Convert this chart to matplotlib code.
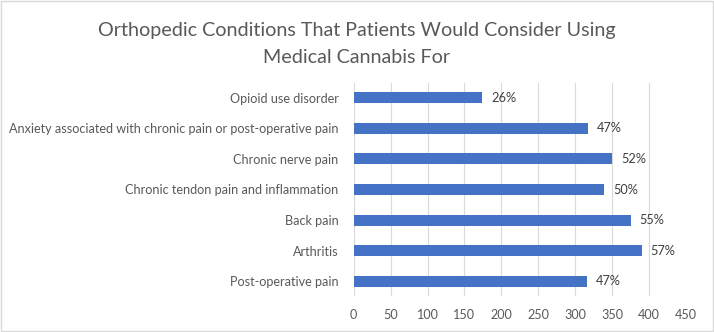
import matplotlib
matplotlib.use("Agg")
import matplotlib.pyplot as plt
from matplotlib.patches import Rectangle

# data (bottom to top as drawn)
conditions = [
    "Post-operative pain",
    "Arthritis",
    "Back pain",
    "Chronic tendon pain and inflammation",
    "Chronic nerve pain",
    "Anxiety associated with chronic pain or post-operative pain",
    "Opioid use disorder",
]
counts = [316, 390, 375, 339, 350, 317, 174]
pct_labels = ["47%", "57%", "55%", "50%", "52%", "47%", "26%"]
xticks = [0, 50, 100, 150, 200, 250, 300, 350, 400, 450]
title_lines = ["Orthopedic Conditions That Patients Would Consider Using",
               "Medical Cannabis For"]

TEXT = "#595959"
BAR = "#4472C4"

plt.rcParams["font.family"] = ["Lato", "DejaVu Sans"]

fig = plt.figure(figsize=(7.14, 3.32), dpi=100)
ax = fig.add_axes([353.7 / 714, 1 - 296.3 / 332, (686 - 353.7) / 714, (296.3 - 82.7) / 332])

y = range(len(conditions))
ax.barh(y, counts, height=0.36, color=BAR, zorder=3)
for yi, v, lab in zip(y, counts, pct_labels):
    ax.text(v + 12, yi, lab, va="center", ha="left", fontsize=9.2, color="#404040")

ax.set_xlim(0, 450)
ax.set_ylim(-0.5, len(conditions) - 0.5)
ax.set_xticks(xticks)
ax.set_yticks(list(y))
ax.set_yticklabels(conditions)
ax.tick_params(axis="both", length=0, labelsize=9.1, labelcolor=TEXT)
ax.tick_params(axis="x", pad=9)
ax.tick_params(axis="y", pad=11)
ax.grid(axis="x", color="#d9d9d9", linewidth=0.8, zorder=0)
for s in ax.spines.values():
    s.set_visible(False)

# title, one text per line to match the wide line gap
for line, base in zip(title_lines, [36, 63]):
    fig.text(0.5, 1 - base / 332, line, ha="center", va="baseline",
             fontsize=14.2, color=TEXT)

fig.patches.append(Rectangle((0.001, 0.002), 0.997, 0.995, transform=fig.transFigure,
                             fill=False, edgecolor="#d9d9d9", linewidth=1))

fig.savefig("out.png", dpi=100)
